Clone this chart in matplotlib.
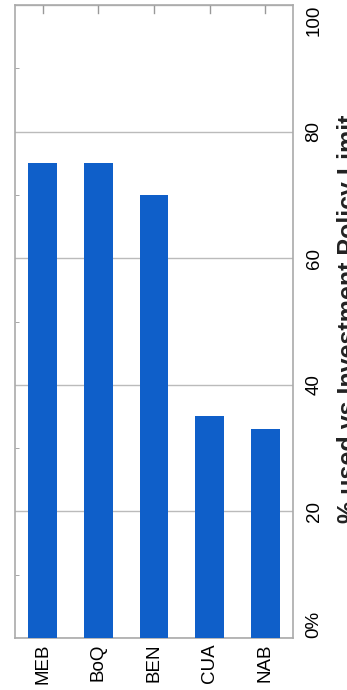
import matplotlib
matplotlib.use("Agg")
import matplotlib.pyplot as plt
from matplotlib.ticker import FixedLocator

categories = ["MEB", "BoQ", "BEN", "CUA", "NAB"]
pct_used = [75, 75, 70, 35, 33]
tick_values = [0, 20, 40, 60, 80, 100]
tick_labels = ["0%", "20", "40", "60", "80", "100"]
title = "% used vs Investment Policy Limit"

plt.rcParams["font.family"] = ["Liberation Sans", "DejaVu Sans"]

W, H = 347, 690
fig = plt.figure(figsize=(W / 100, H / 100), dpi=100)
ax = fig.add_axes([15 / W, 1 - 638 / H, (293 - 15) / W, (638 - 5) / H])

x = range(len(categories))
ax.bar(x, pct_used, width=0.52, color="#0f5fc9", zorder=3)

ax.set_xlim(-0.5, len(categories) - 0.5)
ax.set_ylim(0, 100)
ax.set_xticks(list(x))
ax.set_xticklabels(categories, rotation=90, fontsize=13.5)
ax.tick_params(axis="x", length=0, pad=4)

ax.yaxis.tick_right()
ax.set_yticks(tick_values)
ax.set_yticklabels(tick_labels, rotation=90, fontsize=13.5)
ax.tick_params(axis="y", which="major", length=0, pad=9)
labels = ax.get_yticklabels()
for lbl in labels:
    lbl.set_va("center")
labels[0].set_va("bottom")
labels[-1].set_va("top")
ax.yaxis.set_minor_locator(FixedLocator([10, 30, 50, 70, 90]))
ax.tick_params(axis="y", which="minor", left=True, right=False,
               direction="in", length=3, color="#999999")

# short marks hanging from the top edge at each category
for xi in x:
    ax.plot([xi, xi], [100, 98.7], color="#999999", lw=1, zorder=2)

ax.grid(axis="y", which="major", color="#bbbbbb", lw=1, zorder=1)
for s in ax.spines.values():
    s.set_color("#aaaaaa")
    s.set_linewidth(1.2)

fig.text(337 / W, 1 - 319 / H, title, rotation=90, ha="left", va="center",
         fontsize=18, fontweight="bold", color="#222222")

fig.savefig("out.png", dpi=100, facecolor="white")
